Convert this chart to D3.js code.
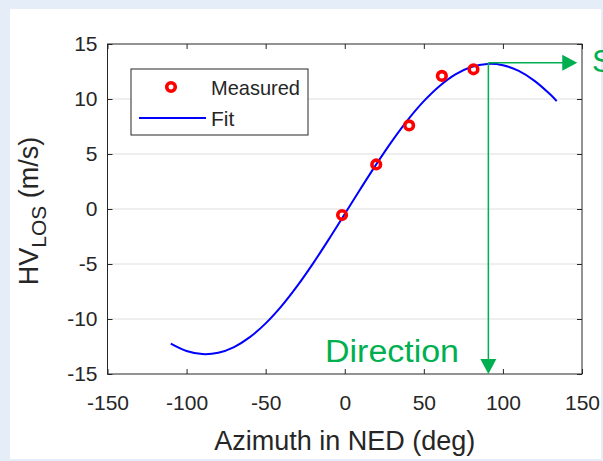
<!DOCTYPE html>
<html>
<head>
<meta charset="utf-8">
<script src="https://cdn.jsdelivr.net/npm/d3@7"></script>
<style>
  html, body { margin: 0; padding: 0; background: #e4edf8; }
  svg { display: block; }
  text { font-family: "Liberation Sans", Arial, Helvetica, sans-serif; fill: #262626; }
</style>
</head>
<body>
<svg id="chart" width="603" height="461"></svg>
<script>
// Measured line-of-sight horizontal velocity per beam azimuth
const measuredAz = [-1.7, 19.9, 40.7, 61.4, 81.4];
const measuredV  = [-0.55, 4.05, 7.6, 12.1, 12.7];

// Fitted curve, sampled along azimuth
const fitAz = [-110, -100, -90, -80, -70, -60, -50, -40, -30, -20, -10, 0, 10, 20, 30, 40, 50, 60, 70, 80, 90, 100, 110, 120, 130, 134];
const fitV  = [-12.24, -12.91, -13.19, -13.07, -12.55, -11.65, -10.40, -8.83, -6.99, -4.94, -2.74, -0.46, 1.84, 4.08, 6.20, 8.13, 9.81, 11.19, 12.24, 12.91, 13.19, 13.07, 12.55, 11.65, 10.40, 9.81];

// Axis ticks
const xTicks = [-150, -100, -50, 0, 50, 100, 150];
const yTicks = [-15, -10, -5, 0, 5, 10, 15];

// Peak of the fit: wind direction and speed
const peakAz = 90.8;
const peakV = 13.3;
const speedArrowEndAz = 147;

const svg = d3.select("#chart");

// White panel
svg.append("rect").attr("x", 10).attr("y", 9).attr("width", 591).attr("height", 450).attr("fill", "#ffffff");

const x = d3.scaleLinear().domain([-150, 150]).range([107.5, 582]);
const y = d3.scaleLinear().domain([-15, 15]).range([374, 44]);

// Horizontal grid
svg.append("g").selectAll("line")
  .data(yTicks.filter(t => t > -15 && t < 15))
  .join("line")
  .attr("x1", x(-150)).attr("x2", x(150))
  .attr("y1", d => y(d)).attr("y2", d => y(d))
  .attr("stroke", "#dedede").attr("stroke-width", 1);

const axisColor = "#262626";
const tickFont = 21;
const plainNum = d => String(d); // hyphen-minus like the plotting tool

function styleAxis(g) {
  g.select(".domain").remove();
  g.selectAll(".tick line").attr("stroke", axisColor);
  g.selectAll(".tick text").attr("font-size", tickFont).attr("fill", axisColor)
    .attr("font-family", "Liberation Sans, Arial, sans-serif");
}

svg.append("g").attr("transform", `translate(0,${y(-15)})`)
  .call(d3.axisBottom(x).tickValues(xTicks).tickFormat(plainNum).tickSizeInner(-5).tickSizeOuter(0).tickPadding(21))
  .call(styleAxis);
svg.append("g").attr("transform", `translate(0,${y(15)})`)
  .call(d3.axisTop(x).tickValues(xTicks).tickSizeInner(-5).tickSizeOuter(0).tickFormat(""))
  .call(styleAxis);
svg.append("g").attr("transform", `translate(${x(-150)},0)`)
  .call(d3.axisLeft(y).tickValues(yTicks).tickFormat(plainNum).tickSizeInner(-5).tickSizeOuter(0).tickPadding(10))
  .call(styleAxis);
svg.append("g").attr("transform", `translate(${x(150)},0)`)
  .call(d3.axisRight(y).tickValues(yTicks).tickSizeInner(-5).tickSizeOuter(0).tickFormat(""))
  .call(styleAxis);

// Box
svg.append("rect")
  .attr("x", x(-150)).attr("y", y(15))
  .attr("width", x(150) - x(-150)).attr("height", y(-15) - y(15))
  .attr("fill", "none").attr("stroke", axisColor).attr("stroke-width", 1);

// Axis titles
svg.append("text")
  .attr("x", (x(-150) + x(150)) / 2).attr("y", 450)
  .attr("text-anchor", "middle").attr("font-size", 27)
  .text("Azimuth in NED (deg)");

const yl = svg.append("text")
  .attr("transform", `translate(38,${(y(-15) + y(15)) / 2 + 2}) rotate(-90)`)
  .attr("text-anchor", "middle").attr("font-size", 27);
yl.append("tspan").text("HV");
yl.append("tspan").attr("font-size", 21).attr("dy", 8).text("LOS");
yl.append("tspan").attr("dy", -8).text(" (m/s)");

// Fit curve
const fitData = fitAz.map((a, i) => [a, fitV[i]]);
svg.append("path")
  .datum(fitData)
  .attr("fill", "none").attr("stroke", "#0000ff").attr("stroke-width", 2)
  .attr("d", d3.line().x(d => x(d[0])).y(d => y(d[1])).curve(d3.curveCatmullRom.alpha(0.5)));

// Measured points
svg.append("g").selectAll("circle")
  .data(measuredAz.map((a, i) => [a, measuredV[i]]))
  .join("circle")
  .attr("cx", d => x(d[0])).attr("cy", d => y(d[1]))
  .attr("r", 4.3).attr("fill", "none").attr("stroke", "#ff0000").attr("stroke-width", 3.6);

// Legend
const lg = svg.append("g");
lg.append("rect").attr("x", 131).attr("y", 69).attr("width", 177).attr("height", 66)
  .attr("fill", "#ffffff").attr("stroke", axisColor).attr("stroke-width", 1);
lg.append("circle").attr("cx", 171).attr("cy", 87).attr("r", 4.3)
  .attr("fill", "none").attr("stroke", "#ff0000").attr("stroke-width", 3.6);
lg.append("text").attr("x", 211).attr("y", 95).attr("font-size", 21)
  .attr("textLength", 89).attr("lengthAdjust", "spacingAndGlyphs").text("Measured");
lg.append("line").attr("x1", 139).attr("x2", 206).attr("y1", 118).attr("y2", 118)
  .attr("stroke", "#0000ff").attr("stroke-width", 2);
lg.append("text").attr("x", 211).attr("y", 126).attr("font-size", 21).text("Fit");

// Direction / speed annotation
const green = "#00b050";
const px = x(peakAz), py = y(peakV);
const ann = svg.append("g");
ann.append("line").attr("x1", px).attr("x2", px).attr("y1", py).attr("y2", y(-15) - 14)
  .attr("stroke", green).attr("stroke-width", 1.5);
ann.append("path")
  .attr("d", `M${px - 8},${y(-15) - 15} L${px + 8},${y(-15) - 15} L${px},${y(-15)} Z`)
  .attr("fill", green);
const sx = x(speedArrowEndAz);
ann.append("line").attr("x1", px).attr("x2", sx - 14).attr("y1", py).attr("y2", py)
  .attr("stroke", green).attr("stroke-width", 1.5);
ann.append("path")
  .attr("d", `M${sx - 15},${py - 8} L${sx - 15},${py + 8} L${sx},${py} Z`)
  .attr("fill", green);
ann.append("text").attr("x", 325).attr("y", 362)
  .attr("font-family", "Lato, 'Open Sans', sans-serif").attr("font-size", 31)
  .attr("textLength", 134).attr("lengthAdjust", "spacingAndGlyphs")
  .style("fill", green).text("Direction");
ann.append("text").attr("x", 592).attr("y", 72)
  .attr("font-family", "Lato, 'Open Sans', sans-serif").attr("font-size", 31)
  .style("fill", green).text("S");
</script>
</body>
</html>
